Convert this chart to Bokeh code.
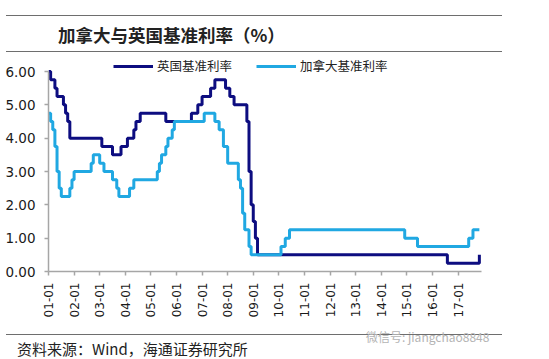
import math
from bokeh.plotting import figure
from bokeh.layouts import column
from bokeh.models import (Range1d, FixedTicker, NumeralTickFormatter, Legend, LegendItem, Div)
from bokeh.embed import file_html
from bokeh.resources import INLINE

# ---- data (month index: 0 = 2001-01) ----
tick_months = [0, 12, 24, 36, 48, 60, 72, 84, 96, 108, 120, 132, 144, 156, 168, 180, 192]
tick_labels = ["01-01", "02-01", "03-01", "04-01", "05-01", "06-01", "07-01", "08-01", "09-01",
               "10-01", "11-01", "12-01", "13-01", "14-01", "15-01", "16-01", "17-01"]

uk_month = [0, 1, 3, 4, 7, 8, 9, 10, 25, 30, 34, 37, 40, 41, 43, 55, 67, 70, 72, 76, 78,
            83, 85, 87, 93, 94, 95, 96, 97, 98, 187, 202]
uk_rate = [6.00, 5.75, 5.50, 5.25, 5.00, 4.75, 4.50, 4.00, 3.75, 3.50, 3.75, 4.00, 4.25, 4.50,
           4.75, 4.50, 4.75, 5.00, 5.25, 5.50, 5.75, 5.50, 5.25, 5.00, 4.50, 3.00, 2.00, 1.50,
           1.00, 0.50, 0.25, 0.50]

ca_month = [0, 1, 2, 3, 4, 5, 6, 10, 11, 12, 20, 21, 24, 26, 30, 32, 33, 38, 40, 51, 52, 53,
            55, 56, 58, 59, 73, 78, 80, 82, 84, 89, 90, 91, 92, 94, 95, 109, 111, 113, 167,
            173, 197, 199, 202]
ca_rate = [4.75, 4.50, 4.25, 3.75, 3.00, 2.50, 2.25, 2.50, 2.75, 3.00, 3.25, 3.50, 3.25, 3.00,
           2.75, 2.50, 2.25, 2.50, 2.75, 3.00, 3.25, 3.50, 3.75, 4.00, 4.25, 4.50, 4.75, 4.50,
           4.25, 3.75, 3.25, 2.75, 2.50, 1.75, 1.25, 0.75, 0.50, 0.75, 1.00, 1.25, 1.00, 0.75,
           1.00, 1.25, 1.25]

uk_name = "英国基准利率"
ca_name = "加拿大基准利率"
title_text = "加拿大与英国基准利率（%）"
source_text = "资料来源：Wind，海通证券研究所"
watermark_text = "微信号: jiangchao8848"

UK_COLOR = "#0d0d80"
CA_COLOR = "#20a8e2"
RULE = "1.5px solid #6e6e6e"
CJK = "Noto Sans CJK SC"
W = 549

# ---- header ----
HH = 56
header_html = (
    f'<div style="position:relative;width:{W}px;height:{HH}px;overflow:hidden;">'
    f'<div style="position:absolute;left:6px;top:15px;width:496px;height:0;border-top:{RULE};"></div>'
    f'<div style="position:absolute;left:6px;top:51px;width:496px;height:0;border-top:{RULE};"></div>'
    f'<div style="position:absolute;left:58px;top:23px;line-height:24px;white-space:nowrap;'
    f"font-family:'{CJK}';font-size:17.5px;font-weight:bold;color:#222222;\">{title_text}</div>"
    '</div>'
)
header = Div(text=header_html, width=W, height=HH, margin=0)

# ---- main chart ----
p = figure(width=W, height=270, x_range=Range1d(0, 203), y_range=Range1d(0, 6.42),
           output_backend="svg", toolbar_location=None,
           min_border_left=48, min_border_right=68, min_border_top=1, min_border_bottom=55)
p.outline_line_color = None
p.xgrid.visible = False
p.ygrid.visible = False

r_uk = p.step(uk_month, uk_rate, mode="after", line_color=UK_COLOR, line_width=3)
r_ca = p.step(ca_month, ca_rate, mode="after", line_color=CA_COLOR, line_width=3)

for ax in (p.xaxis[0], p.yaxis[0]):
    ax.axis_line_color = "#a6a6a6"
    ax.axis_line_width = 1.5
    ax.major_tick_line_color = "#a6a6a6"
    ax.major_tick_line_width = 1.5
    ax.major_tick_in = 0
    ax.major_tick_out = 4
    ax.minor_tick_line_color = None
    ax.major_label_text_color = "#1a1a1a"
    ax.major_label_text_font = "DejaVu Sans"

p.yaxis.ticker = FixedTicker(ticks=[0, 1, 2, 3, 4, 5, 6])
p.yaxis.bounds = (0, 6)
p.yaxis.formatter = NumeralTickFormatter(format="0.00")
p.yaxis.major_label_text_font_size = "13.5px"
p.yaxis.major_label_standoff = 9

p.xaxis.ticker = FixedTicker(ticks=tick_months)
p.xaxis.major_label_overrides = {m: l for m, l in zip(tick_months, tick_labels)}
p.xaxis.major_label_orientation = math.pi / 2
p.xaxis.major_label_text_font_size = "12px"
p.xaxis.major_label_standoff = 7

legend = Legend(items=[LegendItem(label=uk_name, renderers=[r_uk]),
                       LegendItem(label=ca_name, renderers=[r_ca])],
                orientation="horizontal", location=(65, 196),
                glyph_width=40, glyph_height=14, label_height=14, label_standoff=4,
                spacing=24, padding=0, margin=0,
                label_text_font=CJK, label_text_font_size="12.5px", label_text_color="#222222",
                background_fill_alpha=0, border_line_alpha=0)
p.add_layout(legend, "center")

# ---- footer ----
FH = 32
footer_html = (
    f'<div style="position:relative;width:{W}px;height:{FH}px;overflow:hidden;">'
    f'<div style="position:absolute;left:6px;top:8px;width:496px;height:0;border-top:{RULE};"></div>'
    f'<div style="position:absolute;left:366px;top:4px;line-height:14px;white-space:nowrap;'
    f"font-family:'{CJK}';font-size:12px;color:#b4b4b4;\">{watermark_text}</div>"
    f'<div style="position:absolute;left:17px;top:14px;line-height:18px;white-space:nowrap;'
    f"font-family:'{CJK}';font-size:15px;color:#222222;\">{source_text}</div>"
    '</div>'
)
footer = Div(text=footer_html, width=W, height=FH, margin=0)

layout = column(header, p, footer, spacing=0)
open("out.html", "w").write(file_html(layout, INLINE))
